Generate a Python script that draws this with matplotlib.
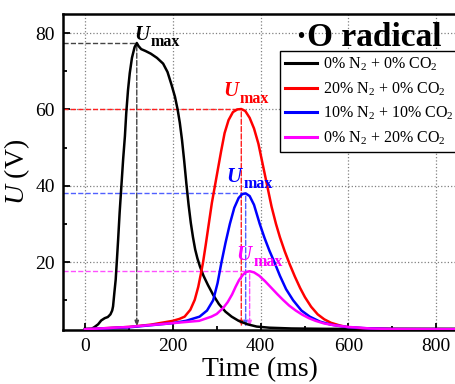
import matplotlib
matplotlib.use('Agg')
import matplotlib.pyplot as plt
from matplotlib.ticker import MultipleLocator

plt.rcParams['font.family'] = ['Liberation Serif', 'DejaVu Serif']
plt.rcParams['mathtext.fontset'] = 'custom'
plt.rcParams['mathtext.rm'] = 'Liberation Serif'
plt.rcParams['mathtext.it'] = 'Liberation Serif:italic'
plt.rcParams['mathtext.bf'] = 'Liberation Serif:bold'

# Data (time in ms, voltage in V)
t_black = [0, 15, 22, 30, 37, 45, 52, 58, 62, 64, 67, 70, 73, 75.5, 79, 83, 87, 91, 94, 98,
           102, 107, 113, 118, 122, 128, 138, 150, 164, 178, 188, 197, 205, 211, 216, 221, 226,
           231, 236, 241, 246, 251, 256, 262, 270, 280, 292, 305, 320, 334, 350, 370, 391, 420, 470,
           550, 900]
u_black = [2.5, 2.5, 3.0, 3.7, 4.7, 5.3, 5.6, 6.3, 7.3, 8.4, 12, 15.4, 21, 25.8, 33, 40, 47, 53, 59, 65,
           69.5, 73.5, 76.3, 77.4, 76.6, 75.8, 75.3, 74.6, 73.5, 72.0, 69.8, 66.5, 63.3, 60.0, 56.5, 52.0, 46.5,
           40.5, 35.0, 30.3, 26.5, 23.3, 21.0, 18.8, 16.4, 14.0, 11.4, 9.0, 7.0, 5.7, 4.6, 3.7, 3.1, 2.8, 2.6,
           2.5, 2.5]

t_red = [0, 50, 100, 150, 200, 215, 227, 240, 250, 258, 265, 269, 275, 282, 289, 296, 303, 310,
         318, 327, 337, 347, 356, 365, 375, 385, 395, 405, 415, 425, 435, 444, 455, 466, 478, 490,
         501, 515, 530, 545, 560, 580, 600, 640, 700, 900]
u_red = [2.4, 2.7, 3.0, 3.6, 4.6, 5.1, 5.7, 7.5, 10.1, 13.5, 17.5, 20, 24.5, 30, 35.5, 40, 44.5, 49,
         53.8, 57.2, 59.3, 60.0, 60.1, 59.6, 57.8, 55, 51, 45.5, 40, 34.5, 30, 26.5, 22.8, 19.5, 16.2, 13.2,
         10.8, 8.3, 6.3, 5.0, 4.1, 3.4, 2.9, 2.6, 2.45, 2.4]

t_blue = [0, 100, 200, 230, 261, 278, 292, 302, 311, 320, 330, 340, 350, 358, 366, 375, 385, 398,
          409, 420, 432, 444, 458, 474, 493, 512, 535, 560, 600, 650, 700, 900]
u_blue = [2.4, 2.9, 4.0, 4.6, 5.7, 7.3, 10, 14.5, 20, 25, 30, 34.2, 36.8, 37.8, 38.0, 37.3, 35, 30,
          26.3, 23, 19.8, 16.4, 12.9, 10, 7.3, 5.7, 4.4, 3.6, 2.9, 2.6, 2.45, 2.4]

t_mag = [0, 100, 200, 260, 288, 300, 315, 325, 335, 343, 351, 360, 367, 375, 385, 397, 410, 424,
         438, 451, 465, 480, 495, 510, 525, 545, 570, 600, 650, 700, 900]
u_mag = [2.4, 3.0, 4.0, 4.6, 5.7, 6.4, 8.0, 9.5, 11.5, 13.5, 15.3, 16.7, 17.4, 17.6, 17.3, 16.4, 15.0, 13.3,
         11.6, 10.1, 8.6, 7.3, 6.2, 5.3, 4.6, 3.9, 3.4, 3.0, 2.6, 2.45, 2.4]

labels = [r'0% N$_2$ + 0% CO$_2$', r'20% N$_2$ + 0% CO$_2$',
          r'10% N$_2$ + 10% CO$_2$', r'0% N$_2$ + 20% CO$_2$']
colors = ['black', 'red', 'blue', 'magenta']
guide_colors = ['#444444', '#ff2020', '#5060ff', '#ff50ff']

# peak positions (ms, V)
peak_t = [118, 356, 366, 375]
peak_u = [77.4, 60.1, 38.0, 17.6]
# U_max label anchors (junction between U and subscript)
lab_t = [146, 350, 357, 380]
lab_u = [78.3, 63.4, 41.0, 20.6]

fig = plt.figure(figsize=(4.56, 3.84), dpi=100)
ax = fig.add_axes([63 / 456, 54 / 384, 1.053 - 63 / 456, 316 / 384])

series = [(t_black, u_black), (t_red, u_red), (t_blue, u_blue), (t_mag, u_mag)]
for (t, u), c, lab in zip(series, colors, labels):
    ax.plot(t, u, color=c, lw=1.8, label=lab, zorder=3, solid_joinstyle='round')

xmin, xmax = -50, 900
ymin, ymax = 2.2, 85

for pt, pu, gc in zip(peak_t, peak_u, guide_colors):
    ax.plot([xmin, pt], [pu, pu], ls='--', color=gc, lw=1.0, zorder=2)
    ax.annotate('', xy=(pt, ymin), xytext=(pt, pu),
                arrowprops=dict(arrowstyle='-|>,head_length=0.35,head_width=0.12',
                                ls='--', color=gc, lw=1.0), zorder=2)

for lt, lu, c in zip(lab_t, lab_u, colors):
    ax.text(lt, lu, 'U', color=c, fontsize=15, fontweight='bold', fontstyle='italic',
            ha='right', va='baseline', zorder=5)
    ax.annotate('max', xy=(lt, lu), xytext=(1, -4.5), textcoords='offset points',
                color=c, fontsize=11.5, fontweight='bold', ha='left', va='baseline', zorder=5)

ax.set_xlim(xmin, xmax)
ax.set_ylim(ymin, ymax)
ax.xaxis.set_major_locator(MultipleLocator(200))
ax.xaxis.set_minor_locator(MultipleLocator(100))
ax.yaxis.set_major_locator(MultipleLocator(20))
ax.yaxis.set_minor_locator(MultipleLocator(10))
ax.tick_params(which='both', direction='in', labelsize=14, width=1.3)
ax.tick_params(which='major', length=5)
ax.tick_params(which='minor', length=3)
ax.tick_params(axis='both', pad=6)
ax.grid(True, which='major', ls=':', color='gray', lw=0.9)
for s in ax.spines.values():
    s.set_linewidth(1.8)

ax.set_xlabel('Time (ms)', fontsize=20, labelpad=0)
ax.set_ylabel(r'$U$ (V)', fontsize=20, labelpad=2)
ax.xaxis.set_label_coords((260 - 63) / (1.053 * 456 - 63), -0.085)

fig.text(442 / 456, 1 - 46 / 384, '·O radical', fontsize=24, fontweight='bold',
         ha='right', va='baseline')

leg = ax.legend(loc='upper left', bbox_to_anchor=(280 / 456, 1 - 51 / 384),
                bbox_transform=fig.transFigure, fontsize=11.5, frameon=True, fancybox=False,
                edgecolor='black', framealpha=1, handlelength=2.0, handletextpad=0.4,
                borderpad=0.3, labelspacing=0.45, borderaxespad=0)
leg.get_frame().set_linewidth(1.0)
for line in leg.get_lines():
    line.set_linewidth(2.2)

fig.savefig('out.png', dpi=100)
